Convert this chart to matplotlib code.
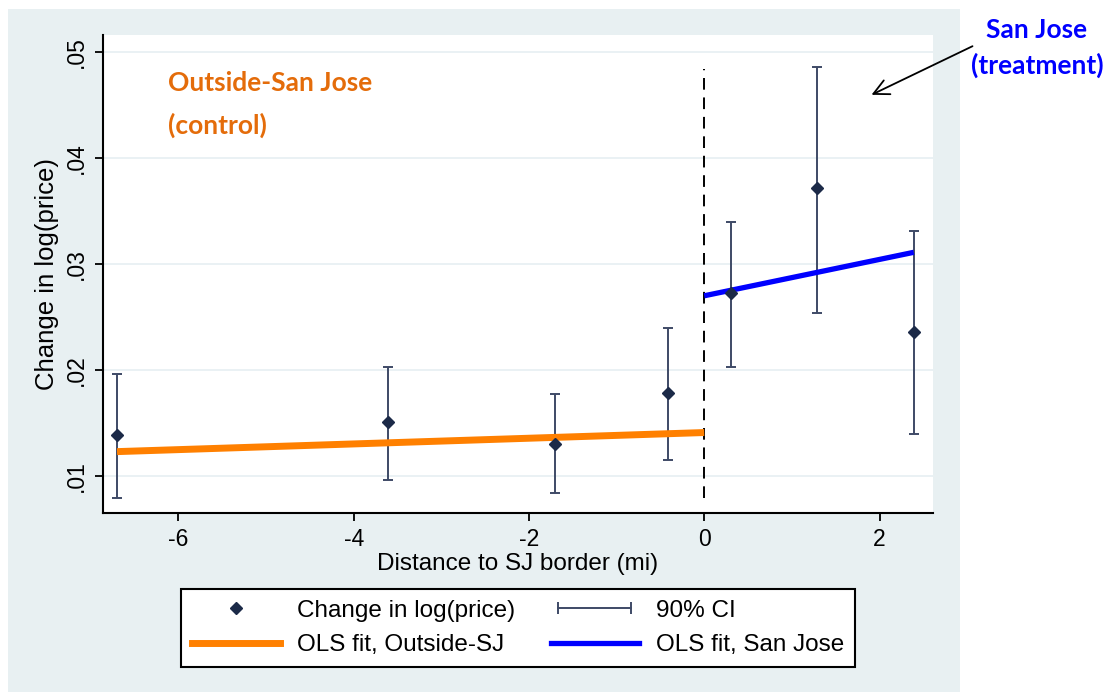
import matplotlib
matplotlib.use("Agg")
import matplotlib.pyplot as plt
from matplotlib.lines import Line2D
from matplotlib.legend_handler import HandlerLine2D
from matplotlib.patches import Rectangle, FancyArrowPatch

# ---- data ----
x_pts = [-6.70, -3.61, -1.70, -0.41, 0.30, 1.29, 2.39]
y_pts = [0.0139, 0.0151, 0.0130, 0.0178, 0.0273, 0.0372, 0.0236]
ci_lo = [0.0079, 0.0096, 0.0084, 0.0115, 0.0203, 0.0254, 0.0140]
ci_hi = [0.0196, 0.0203, 0.0177, 0.0240, 0.0340, 0.0486, 0.0331]
fit_out_x = [-6.70, 0.0]
fit_out_y = [0.0123, 0.0141]
fit_sj_x = [0.0, 2.39]
fit_sj_y = [0.0270, 0.0311]
xticks = [-6, -4, -2, 0, 2]
yticks = [0.01, 0.02, 0.03, 0.04, 0.05]
ytick_labels = [".01", ".02", ".03", ".04", ".05"]

STATA_FONT = ['Liberation Sans', 'DejaVu Sans']
BOLD_FONT = ['Lato', 'DejaVu Sans']
NAVY = '#1C2A48'
CI_COL = '#3E4A66'
ORANGE = '#FF8000'
BLUE = '#0000FF'
PANEL = '#E8F0F2'

fig = plt.figure(figsize=(11.13, 6.94), dpi=100)
fig.patch.set_facecolor('white')
fig.patches.append(Rectangle((8/1113, 1-692/694), (960-8)/1113, (692-9)/694,
                             transform=fig.transFigure, facecolor=PANEL,
                             edgecolor='none', zorder=-10))

ax = fig.add_axes([103/1113, 1-513/694, (933-103)/1113, (513-35)/694])
ax.set_facecolor('white')
ax.set_xlim(-6.86, 2.61)
ax.set_ylim(0.00651, 0.0516)

for yv in yticks:
    ax.axhline(yv, color='#E6EFF2', lw=1.2, zorder=0)

yerr = [[y - lo for y, lo in zip(y_pts, ci_lo)], [hi - y for y, hi in zip(y_pts, ci_hi)]]
ax.errorbar(x_pts, y_pts, yerr=yerr, fmt='none', ecolor=CI_COL, elinewidth=1.4,
            capsize=3.5, capthick=1.4, zorder=3)
ax.plot(fit_out_x, fit_out_y, color=ORANGE, lw=5, solid_capstyle='butt', zorder=4)
ax.plot(fit_sj_x, fit_sj_y, color=BLUE, lw=3.8, solid_capstyle='butt', zorder=4)
ax.plot(x_pts, y_pts, linestyle='none', marker='D', markersize=6, color=NAVY, zorder=5)
ax.plot([0, 0], [min(ci_lo), max(ci_hi) - 0.0002], color='black', lw=1.4,
        dashes=(6, 4), zorder=2)

for s in ['top', 'right']:
    ax.spines[s].set_visible(False)
for s in ['left', 'bottom']:
    ax.spines[s].set_linewidth(1.5)
ax.set_xticks(xticks)
ax.set_xticklabels([str(v) for v in xticks], fontfamily=STATA_FONT, fontsize=16.5)
ax.set_yticks(yticks)
ax.set_yticklabels(ytick_labels, rotation=90, va='center', fontfamily=STATA_FONT, fontsize=16.5)
ax.tick_params(direction='out', length=6, width=1.3, colors='black', pad=5)
ax.set_xlabel('Distance to SJ border (mi)', fontfamily=STATA_FONT, fontsize=17.5, labelpad=1)
ax.set_ylabel('Change in log(price)', fontfamily=STATA_FONT, fontsize=18.5, labelpad=4)

# annotations
TXT = dict(fontfamily=BOLD_FONT, fontweight='bold', fontsize=19, va='center')
fig.text(168/1113, 1-83/694, 'Outside-San Jose', color='#E46C0A', ha='left', **TXT)
fig.text(168/1113, 1-125/694, '(control)', color='#E46C0A', ha='left', **TXT)
fig.text(1037/1113, 1-30/694, 'San Jose', color=BLUE, ha='center', **TXT)
fig.text(1037/1113, 1-65/694, '(treatment)', color=BLUE, ha='center', **TXT)
fig.add_artist(FancyArrowPatch(
    (975/1113, 1-45/694), (869/1113, 1-96/694), transform=fig.transFigure,
    arrowstyle='->,head_length=11,head_width=5.5', color='black', lw=1.3))

# legend
h_pt = Line2D([], [], linestyle='none', marker='D', markersize=6, color=NAVY)
h_ci = Line2D([], [], color=CI_COL, lw=1.4, marker='|', markersize=9, markeredgewidth=1.4)
h_or = Line2D([], [], color=ORANGE, lw=5)
h_bl = Line2D([], [], color=BLUE, lw=3.8)
leg = fig.legend([h_pt, h_or, h_ci, h_bl],
                 ['Change in log(price)', 'OLS fit, Outside-SJ', '90% CI', 'OLS fit, San Jose'],
                 ncol=2, loc='center', bbox_to_anchor=(518/1113, 1-628/694),
                 prop={'family': STATA_FONT, 'size': 17.5}, frameon=True, fancybox=False,
                 edgecolor='black', facecolor='white', framealpha=1,
                 handlelength=3.6, handletextpad=0.7, columnspacing=1.5,
                 labelspacing=0.5, borderpad=0.45, borderaxespad=0,
                 handler_map={h_pt: HandlerLine2D(numpoints=1), h_ci: HandlerLine2D(numpoints=2)})
leg.get_frame().set_linewidth(1.5)

fig.savefig('out.png', dpi=100, facecolor='white')
